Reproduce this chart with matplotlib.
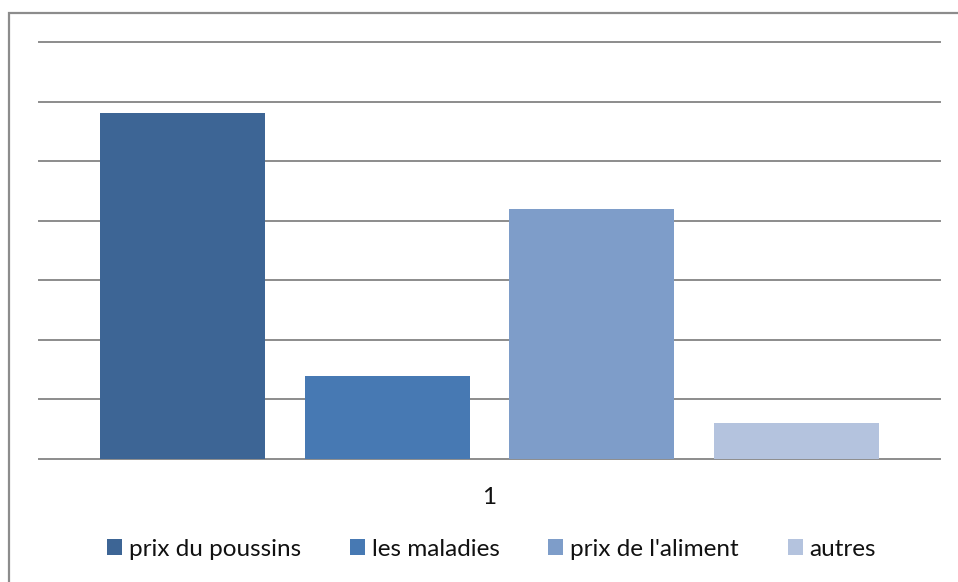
import matplotlib.pyplot as plt
from matplotlib.patches import Rectangle, Patch

# data (one category "1", four series)
series = ["prix du poussins", "les maladies", "prix de l'aliment", "autres"]
values = [5.8, 1.4, 4.2, 0.6]
colors = ["#3D6595", "#4779B3", "#7E9DC9", "#B4C3DE"]
category = ["1"]

plt.rcParams['font.family'] = ['Lato', 'DejaVu Sans']

W, H = 958, 582
fig = plt.figure(figsize=(W / 100, H / 100), dpi=100)

# outer chart frame (only top and left edges visible)
fig.patches.append(Rectangle((9 / W, -0.1), 1.2, 1.1 - 13 / H,
                             transform=fig.transFigure, fill=False,
                             edgecolor='#8c8c8c', linewidth=1.6, clip_on=False))

ax = fig.add_axes([39 / W, 1 - 459 / H, (940 - 39) / W, (459 - 42) / H])

n = len(series)
width = 0.183
step = 0.227
centers = [0.5 + (i - (n - 1) / 2) * step for i in range(n)]
for i in range(n):
    ax.bar(centers[i], values[i], width=width, color=colors[i], zorder=3,
           label=series[i])

ax.set_xlim(0, 1)
ax.set_ylim(0, 7)
ax.set_yticks(range(0, 8))
ax.yaxis.grid(True, color='#8c8c8c', linewidth=1.4, zorder=0, clip_on=False)
ax.tick_params(axis='y', length=0, labelleft=False)
ax.set_xticks([0.5])
ax.set_xticklabels(category, fontsize=17.5, color='#111111')
ax.tick_params(axis='x', length=0, pad=20)
for s in ax.spines.values():
    s.set_visible(False)

handles = [Patch(facecolor=c, edgecolor='none') for c in colors]
fig.legend(handles, series, loc='center',
           bbox_to_anchor=(491.5 / W, 1 - 549 / H),
           ncol=4, frameon=False, fontsize=17.5, handlelength=0.62,
           handleheight=0.62, handletextpad=0.29, columnspacing=2.0,
           labelcolor='#111111')

fig.savefig('out.png', dpi=100)
